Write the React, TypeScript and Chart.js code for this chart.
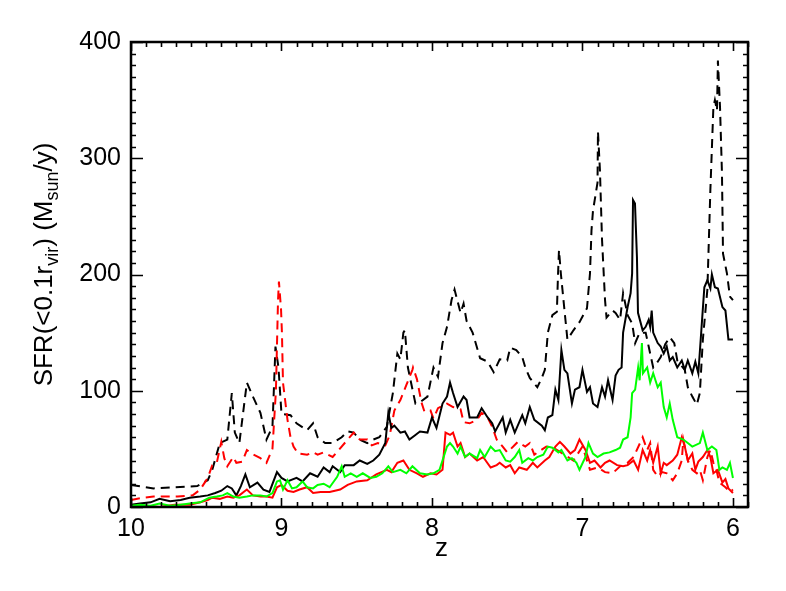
import React, { useEffect, useRef } from "react";
import { Chart, registerables } from "chart.js";

Chart.register(...registerables);

// ---- data (z = redshift, v = SFR in Msun/yr) ----
const blackDashedZ = [10.00, 9.85, 9.71, 9.56, 9.49, 9.46, 9.41, 9.36, 9.33, 9.31, 9.28, 9.23, 9.19, 9.14, 9.10, 9.06, 9.04, 9.02, 9.00, 8.94, 8.90, 8.83, 8.79, 8.76, 8.71, 8.66, 8.60, 8.56, 8.52, 8.48, 8.43, 8.39, 8.35, 8.30, 8.26, 8.23, 8.21, 8.19, 8.18, 8.16, 8.11, 8.08, 8.03, 7.99, 7.96, 7.93, 7.90, 7.87, 7.85, 7.81, 7.79, 7.77, 7.73, 7.68, 7.63, 7.59, 7.55, 7.50, 7.48, 7.44, 7.40, 7.38, 7.35, 7.30, 7.27, 7.25, 7.23, 7.20, 7.17, 7.163, 7.156, 7.143, 7.12, 7.10, 7.06, 7.02, 6.97, 6.95, 6.94, 6.93, 6.90, 6.897, 6.884, 6.87, 6.85, 6.84, 6.80, 6.78, 6.75, 6.73, 6.70, 6.67, 6.65, 6.62, 6.58, 6.56, 6.53, 6.50, 6.48, 6.45, 6.42, 6.39, 6.37, 6.32, 6.30, 6.27, 6.24, 6.22, 6.20, 6.17, 6.15, 6.13, 6.12, 6.106, 6.10, 6.086, 6.073, 6.066, 6.04, 6.02, 6.00];
const blackDashedV = [19, 16, 17, 18, 23, 32, 55, 58, 98, 64, 55, 107, 95, 81, 58, 69, 138, 120, 80, 79, 72, 66, 72, 60, 55, 55, 60, 65, 64, 58, 55, 58, 60, 69, 98, 132, 127, 150, 152, 120, 89, 90, 95, 120, 112, 141, 155, 178, 187, 167, 175, 160, 150, 128, 125, 116, 127, 126, 137, 135, 129, 120, 111, 103, 111, 118, 150, 165, 168, 198, 221, 200, 170, 144, 152, 159, 171, 201, 238, 255, 279, 323, 290, 230, 178, 163, 169, 167, 161, 184, 165, 158, 141, 150, 150, 138, 120, 125, 129, 140, 146, 141, 126, 118, 103, 95, 88, 98, 144, 187, 273, 344, 350, 341, 384, 344, 287, 218, 201, 181, 178];

const blackSolidZ = [10.00, 9.94, 9.87, 9.81, 9.74, 9.67, 9.61, 9.54, 9.49, 9.44, 9.40, 9.36, 9.33, 9.30, 9.27, 9.24, 9.21, 9.16, 9.12, 9.08, 9.03, 9.00, 8.96, 8.90, 8.86, 8.81, 8.76, 8.72, 8.68, 8.66, 8.61, 8.58, 8.52, 8.48, 8.43, 8.39, 8.35, 8.31, 8.29, 8.27, 8.25, 8.21, 8.18, 8.15, 8.11, 8.08, 8.03, 8.00, 7.97, 7.93, 7.90, 7.88, 7.86, 7.83, 7.79, 7.77, 7.75, 7.70, 7.67, 7.63, 7.60, 7.58, 7.53, 7.51, 7.48, 7.45, 7.40, 7.38, 7.35, 7.32, 7.27, 7.25, 7.23, 7.20, 7.18, 7.16, 7.14, 7.12, 7.10, 7.07, 7.05, 7.02, 7.00, 6.97, 6.95, 6.93, 6.90, 6.87, 6.85, 6.83, 6.80, 6.78, 6.76, 6.74, 6.73, 6.70, 6.68, 6.67, 6.664, 6.651, 6.638, 6.631, 6.60, 6.58, 6.56, 6.55, 6.54, 6.53, 6.50, 6.48, 6.46, 6.44, 6.42, 6.40, 6.37, 6.34, 6.32, 6.30, 6.27, 6.25, 6.23, 6.21, 6.19, 6.17, 6.15, 6.14, 6.12, 6.10, 6.07, 6.05, 6.03, 6.00];
const blackSolidV = [2, 3, 4, 7, 5, 6, 8, 9, 10, 12, 14, 18, 16, 10, 18, 28, 17, 21, 15, 13, 30, 25, 22, 25, 22, 29, 26, 34, 30, 35, 30, 36, 36, 40, 37, 40, 45, 55, 81, 68, 70, 64, 65, 58, 62, 65, 64, 77, 68, 89, 95, 107, 98, 86, 95, 92, 77, 77, 85, 77, 72, 65, 77, 64, 75, 64, 79, 72, 86, 75, 70, 66, 77, 79, 101, 92, 135, 118, 115, 89, 101, 103, 118, 99, 103, 89, 86, 103, 95, 109, 92, 113, 118, 120, 150, 172, 184, 201, 264, 261, 215, 167, 152, 155, 161, 155, 169, 150, 141, 138, 132, 138, 126, 129, 120, 126, 118, 126, 115, 125, 115, 152, 189, 195, 188, 200, 189, 188, 172, 169, 144, 144];

const redDashedZ = [10.00, 9.92, 9.85, 9.69, 9.59, 9.54, 9.49, 9.46, 9.43, 9.40, 9.38, 9.36, 9.32, 9.30, 9.26, 9.23, 9.20, 9.14, 9.10, 9.06, 9.037, 9.023, 9.017, 9.003, 8.997, 8.99, 8.96, 8.94, 8.92, 8.89, 8.83, 8.79, 8.76, 8.72, 8.66, 8.62, 8.56, 8.52, 8.48, 8.43, 8.40, 8.36, 8.31, 8.28, 8.25, 8.21, 8.17, 8.13, 8.126, 8.10, 8.07, 8.05, 8.01, 7.99, 7.96, 7.90, 7.86, 7.81, 7.79, 7.75, 7.70, 7.67, 7.63, 7.60, 7.57, 7.53, 7.50, 7.46, 7.43, 7.38, 7.35, 7.32, 7.24, 7.18, 7.12, 7.06, 7.00, 6.95, 6.90, 6.85, 6.80, 6.75, 6.70, 6.66, 6.60, 6.57, 6.55, 6.53, 6.50, 6.47, 6.44, 6.40, 6.37, 6.34, 6.33, 6.30, 6.27, 6.24, 6.22, 6.20, 6.17, 6.15, 6.13, 6.11, 6.09, 6.05, 6.02, 6.00];
const redDashedV = [6, 8, 9, 9, 10, 15, 25, 36, 38, 56, 42, 35, 43, 38, 39, 49, 46, 42, 38, 50, 100, 178, 194, 170, 150, 107, 75, 60, 52, 46, 45, 47, 45, 47, 43, 49, 58, 64, 58, 58, 53, 55, 53, 62, 83, 92, 105, 118, 120, 110, 90, 82, 83, 76, 85, 89, 86, 84, 73, 72, 75, 81, 77, 69, 58, 52, 47, 52, 56, 52, 55, 45, 52, 50, 45, 40, 52, 32, 34, 30, 29, 35, 38, 43, 60, 49, 55, 32, 26, 30, 29, 23, 29, 40, 58, 40, 32, 29, 32, 23, 43, 49, 38, 32, 21, 17, 13, 15];

const redSolidZ = [10.00, 9.91, 9.81, 9.71, 9.61, 9.54, 9.49, 9.46, 9.41, 9.36, 9.32, 9.28, 9.23, 9.19, 9.14, 9.10, 9.06, 9.03, 9.00, 8.96, 8.92, 8.88, 8.83, 8.79, 8.74, 8.68, 8.61, 8.56, 8.50, 8.43, 8.37, 8.30, 8.27, 8.23, 8.19, 8.15, 8.10, 8.06, 8.01, 7.97, 7.93, 7.91, 7.88, 7.86, 7.83, 7.81, 7.78, 7.75, 7.70, 7.66, 7.61, 7.57, 7.55, 7.51, 7.48, 7.45, 7.42, 7.37, 7.33, 7.30, 7.25, 7.22, 7.18, 7.15, 7.12, 7.08, 7.05, 7.02, 6.98, 6.95, 6.92, 6.88, 6.85, 6.82, 6.77, 6.73, 6.70, 6.66, 6.63, 6.60, 6.57, 6.55, 6.53, 6.50, 6.48, 6.46, 6.44, 6.40, 6.37, 6.34, 6.32, 6.30, 6.27, 6.25, 6.23, 6.20, 6.17, 6.15, 6.13, 6.10, 6.07, 6.05, 6.03, 6.00];
const redSolidV = [0, 1, 0, 2, 2, 4, 6, 8, 7, 9, 8, 10, 15, 10, 9, 9, 8, 17, 19, 14, 13, 15, 17, 12, 13, 13, 15, 19, 22, 23, 28, 32, 30, 38, 40, 32, 29, 26, 29, 28, 32, 64, 62, 64, 52, 55, 43, 46, 40, 43, 34, 36, 38, 34, 36, 29, 34, 32, 38, 34, 40, 43, 52, 56, 52, 46, 49, 58, 49, 38, 40, 34, 38, 40, 36, 35, 36, 40, 32, 49, 40, 49, 38, 52, 29, 38, 36, 40, 45, 60, 52, 40, 46, 32, 39, 43, 49, 43, 29, 32, 21, 24, 16, 12];

const greenZ = [10.00, 9.94, 9.87, 9.81, 9.74, 9.67, 9.61, 9.54, 9.48, 9.43, 9.39, 9.36, 9.32, 9.28, 9.23, 9.19, 9.14, 9.10, 9.06, 9.03, 9.01, 8.99, 8.96, 8.93, 8.90, 8.86, 8.83, 8.79, 8.76, 8.72, 8.68, 8.63, 8.60, 8.58, 8.54, 8.50, 8.46, 8.41, 8.37, 8.33, 8.29, 8.26, 8.21, 8.17, 8.13, 8.08, 8.03, 7.99, 7.95, 7.90, 7.88, 7.86, 7.83, 7.81, 7.78, 7.75, 7.70, 7.68, 7.65, 7.61, 7.58, 7.55, 7.51, 7.48, 7.45, 7.42, 7.40, 7.36, 7.33, 7.30, 7.26, 7.23, 7.20, 7.16, 7.14, 7.10, 7.07, 7.04, 7.02, 6.98, 6.96, 6.93, 6.90, 6.86, 6.82, 6.78, 6.75, 6.73, 6.70, 6.68, 6.67, 6.65, 6.63, 6.62, 6.605, 6.598, 6.57, 6.55, 6.53, 6.50, 6.48, 6.46, 6.44, 6.42, 6.40, 6.37, 6.33, 6.30, 6.27, 6.22, 6.20, 6.17, 6.14, 6.11, 6.09, 6.07, 6.04, 6.02, 6.00];
const greenV = [1, 2, 1, 3, 1, 2, 3, 4, 8, 9, 10, 12, 9, 8, 9, 10, 10, 9, 12, 22, 23, 15, 23, 16, 17, 22, 17, 16, 19, 20, 17, 26, 35, 26, 29, 26, 29, 25, 26, 29, 35, 30, 32, 29, 35, 29, 28, 29, 32, 52, 55, 52, 46, 52, 43, 46, 42, 49, 43, 52, 48, 49, 40, 39, 43, 49, 38, 42, 40, 43, 45, 52, 51, 47, 49, 40, 42, 38, 32, 43, 55, 46, 43, 46, 47, 49, 51, 58, 60, 77, 98, 101, 120, 109, 141, 115, 120, 107, 115, 103, 107, 86, 77, 89, 75, 60, 58, 55, 52, 55, 64, 49, 52, 49, 32, 34, 32, 38, 25];

const xTickValues = [10, 9, 8, 7, 6];
const yTickValues = [0, 100, 200, 300, 400];
const X_MIN = 5.9;
const X_MAX = 10;
const Y_MIN = 0;
const Y_MAX = 400;
const X_MINOR_STEP = 0.1;
const Y_MINOR_STEP = 10;

const FONT = "'Liberation Sans', Arial, Helvetica, sans-serif";
const TICK_SIZE = 25;
const TITLE_SIZE = 26;

const toPoints = (zs: number[], vs: number[]) => zs.map((z, i) => ({ x: z, y: vs[i] }));

export default function App() {
  const ref = useRef<HTMLCanvasElement | null>(null);

  useEffect(() => {
    document.body.style.margin = "0";
    const canvas = ref.current;
    if (!canvas) return;

    const framePlugin = {
      id: "idlFrame",
      afterDatasetsDraw(chart: any) {
        const { ctx, chartArea: a, scales } = chart;
        const xs = scales.x;
        const ys = scales.y;
        ctx.save();
        ctx.strokeStyle = "#000";
        ctx.lineWidth = 1.6;
        ctx.beginPath();
        const nx = Math.round((X_MAX - X_MIN) / X_MINOR_STEP);
        for (let i = 0; i <= nx; i++) {
          const v = X_MIN + i * X_MINOR_STEP;
          const major = Math.abs(v - Math.round(v)) < 1e-6;
          const len = major ? 9 : 5;
          const px = Math.round(xs.getPixelForValue(v)) + 0.5;
          ctx.moveTo(px, a.bottom);
          ctx.lineTo(px, a.bottom - len);
          ctx.moveTo(px, a.top);
          ctx.lineTo(px, a.top + len);
        }
        const ny = Math.round((Y_MAX - Y_MIN) / Y_MINOR_STEP);
        for (let i = 0; i <= ny; i++) {
          const v = Y_MIN + i * Y_MINOR_STEP;
          const major = v % 100 === 0;
          const len = major ? 12 : 5;
          const py = Math.round(ys.getPixelForValue(v)) + 0.5;
          ctx.moveTo(a.left, py);
          ctx.lineTo(a.left + len, py);
          ctx.moveTo(a.right, py);
          ctx.lineTo(a.right - len, py);
        }
        ctx.stroke();
        ctx.lineWidth = 2.5;
        ctx.strokeRect(a.left, a.top, a.right - a.left, a.bottom - a.top);
        ctx.restore();
      },
      afterDraw(chart: any) {
        const { ctx, chartArea: a } = chart;
        ctx.save();
        ctx.fillStyle = "#000";
        // x title
        ctx.font = `${TITLE_SIZE}px ${FONT}`;
        ctx.textAlign = "center";
        ctx.textBaseline = "alphabetic";
        ctx.fillText("z", (a.left + a.right) / 2 + 2, 556);
        // y title with subscripts
        const big = `${TITLE_SIZE}px ${FONT}`;
        const small = `${Math.round(TITLE_SIZE * 0.68)}px ${FONT}`;
        const parts: [string, boolean][] = [
          ["SFR(<0.1r", false],
          ["vir", true],
          [") (M", false],
          ["sun", true],
          ["/y)", false],
        ];
        let total = 0;
        for (const [t, sub] of parts) {
          ctx.font = sub ? small : big;
          total += ctx.measureText(t).width;
        }
        ctx.translate(52, (a.top + a.bottom) / 2 - 10);
        ctx.rotate(-Math.PI / 2);
        ctx.textAlign = "left";
        let x = -total / 2;
        for (const [t, sub] of parts) {
          ctx.font = sub ? small : big;
          ctx.fillText(t, x, sub ? 6 : 0);
          x += ctx.measureText(t).width;
        }
        ctx.restore();
      },
    };

    const common = { pointRadius: 0, borderWidth: 2, tension: 0, fill: false };

    const chart = new Chart(canvas, {
      type: "line",
      data: {
        datasets: [
          { ...common, label: "green", data: toPoints(greenZ, greenV), borderColor: "#00ff00", order: 0 },
          { ...common, label: "red", data: toPoints(redSolidZ, redSolidV), borderColor: "#ff0000", order: 1 },
          { ...common, label: "black", data: toPoints(blackSolidZ, blackSolidV), borderColor: "#000000", order: 2 },
          { ...common, label: "red dashed", data: toPoints(redDashedZ, redDashedV), borderColor: "#ff0000", borderDash: [9, 6], order: 3 },
          { ...common, label: "black dashed", data: toPoints(blackDashedZ, blackDashedV), borderColor: "#000000", borderDash: [9, 6], order: 4 },
        ],
      },
      options: {
        animation: false,
        responsive: false,
        devicePixelRatio: 1,
        layout: { padding: { top: 42, right: 38, left: 0, bottom: 0 } },
        plugins: { legend: { display: false }, tooltip: { enabled: false }, title: { display: false } },
        scales: {
          x: {
            type: "linear",
            min: X_MIN,
            max: X_MAX,
            reverse: true,
            grid: { display: false, drawTicks: false },
            border: { display: false },
            afterBuildTicks: (s: any) => {
              s.ticks = xTickValues.map((v) => ({ value: v }));
            },
            afterFit: (s: any) => {
              s.height = 84;
            },
            ticks: {
              color: "#000",
              font: { family: FONT, size: TICK_SIZE },
              padding: 7,
              maxRotation: 0,
              autoSkip: false,
            },
          },
          y: {
            type: "linear",
            min: Y_MIN,
            max: Y_MAX,
            grid: { display: false, drawTicks: false },
            border: { display: false },
            afterBuildTicks: (s: any) => {
              s.ticks = yTickValues.map((v) => ({ value: v }));
            },
            afterFit: (s: any) => {
              s.width = 131;
            },
            ticks: {
              color: "#000",
              font: { family: FONT, size: TICK_SIZE },
              padding: 10,
              autoSkip: false,
            },
          },
        },
      },
      plugins: [framePlugin],
    } as any);

    return () => chart.destroy();
  }, []);

  return <canvas ref={ref} width={786} height={591} style={{ display: "block" }} />;
}
